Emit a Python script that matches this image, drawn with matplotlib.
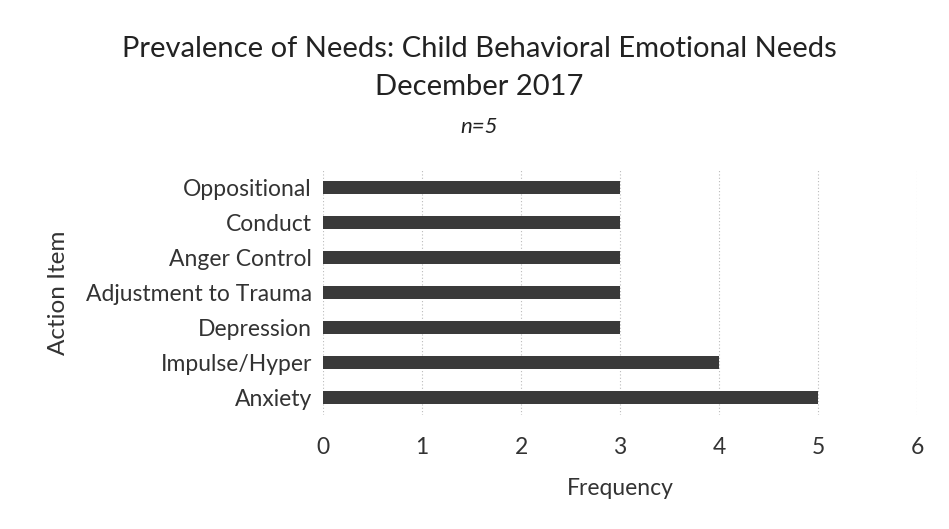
import matplotlib.pyplot as plt
import numpy as np

plt.rcParams['font.family'] = ['Lato', 'DejaVu Sans']

categories = ["Anxiety", "Impulse/Hyper", "Depression", "Adjustment to Trauma",
              "Anger Control", "Conduct", "Oppositional"]
frequency = [5, 4, 3, 3, 3, 3, 3]
x_ticks = [0, 1, 2, 3, 4, 5, 6]

fig = plt.figure(figsize=(9.49, 5.29), dpi=100)
ax = fig.add_axes([0.3404, 0.2155, 0.6259, 0.4631])

y = np.arange(len(categories))
ax.barh(y, frequency, height=0.35, color='#3a3a3a', zorder=3)

ax.set_xlim(0, 6)
ax.set_ylim(-0.5, len(categories) - 0.5)
ax.set_xticks(x_ticks)
ax.set_yticks(y)
ax.set_yticklabels(categories)
ax.tick_params(axis='both', length=0, labelsize=16.5, colors='#333333')
ax.tick_params(axis='x', pad=16)
ax.tick_params(axis='y', pad=8)
ax.grid(axis='x', color='#bbbbbb', linestyle=(0, (1, 2)), linewidth=0.8, zorder=0)
for s in ax.spines.values():
    s.set_visible(False)

ax.set_xlabel("Frequency", fontsize=16.5, color='#333333', labelpad=14)
ax.set_ylabel("Action Item", fontsize=17.5, color='#333333', labelpad=12)

fig.text(0.5047, 0.8922, "Prevalence of Needs: Child Behavioral Emotional Needs",
         ha='center', va='baseline', fontsize=21, color='#222222')
fig.text(0.5047, 0.8204, "December 2017", ha='center', va='baseline', fontsize=21, color='#222222')
fig.text(0.5047, 0.7486, "n=5", ha='center', va='baseline', fontsize=16, style='italic', color='#222222')

fig.savefig("out.png", dpi=100)
